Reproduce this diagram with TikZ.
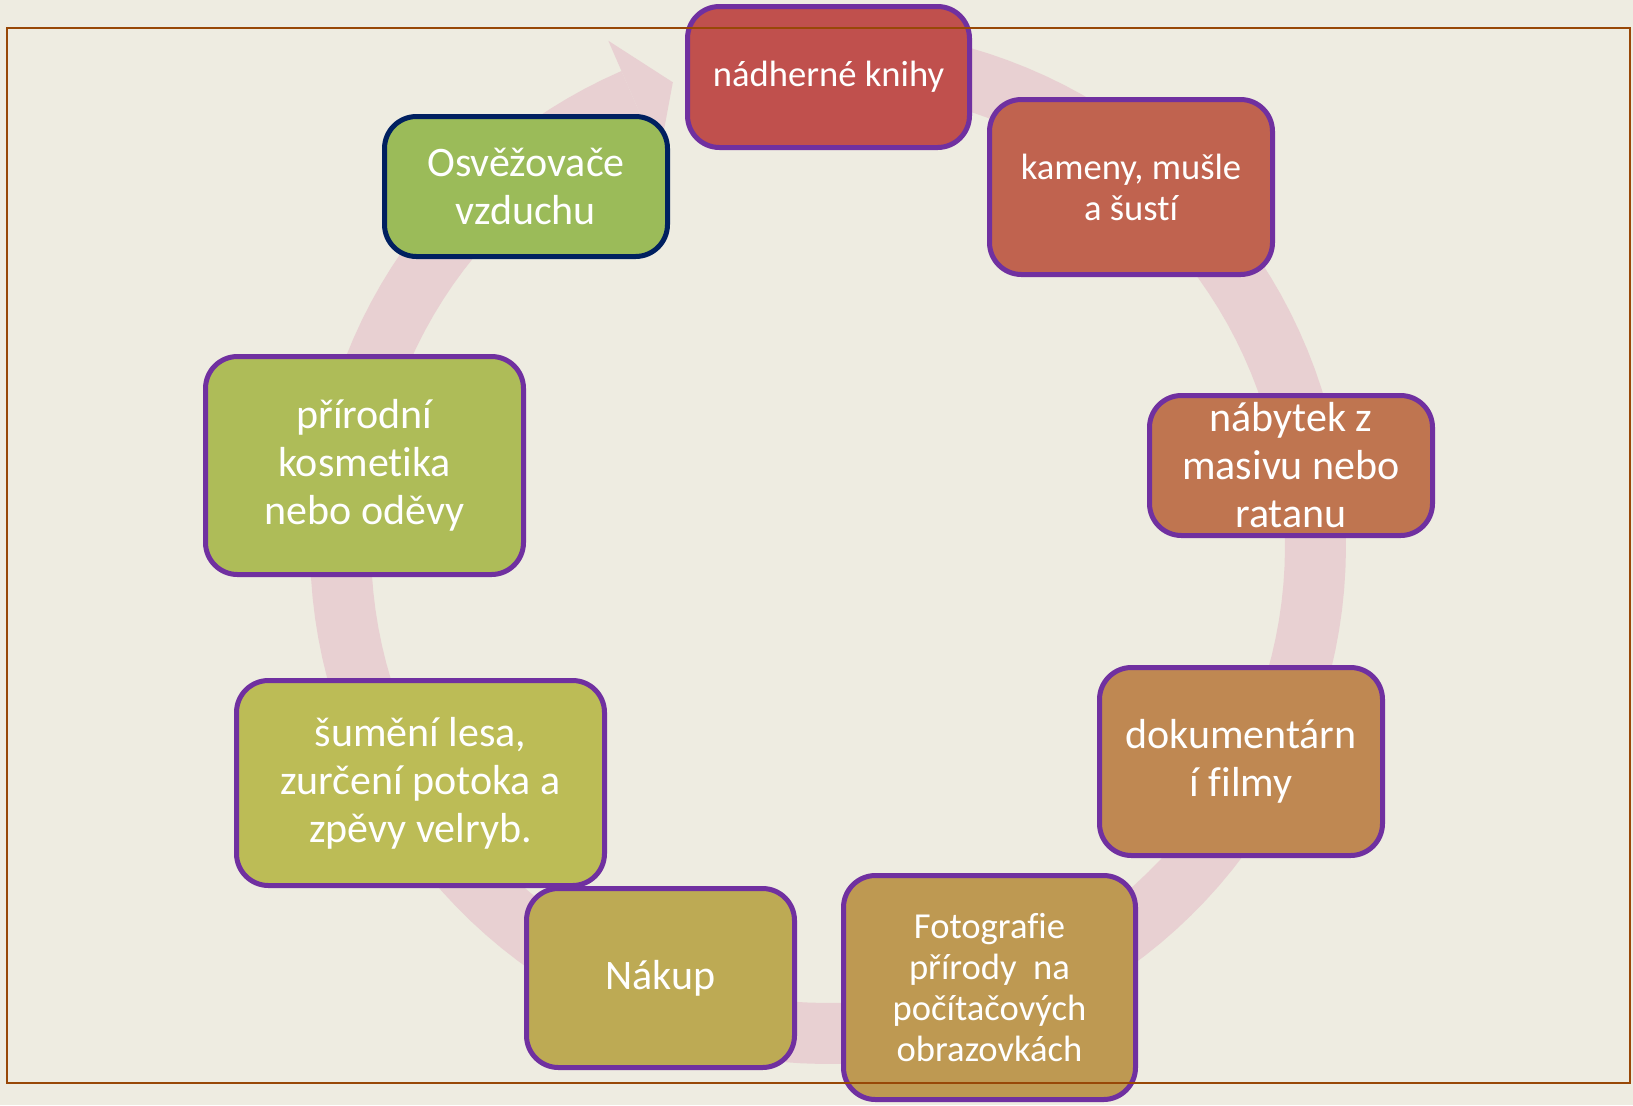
\documentclass[tikz,border=0pt]{standalone}
\usepackage{fontspec}
\setmainfont{Carlito}[Ligatures=NoCommon]

\definecolor{paper}{HTML}{EEECE1}
\definecolor{framebrown}{HTML}{984807}
\definecolor{bandpink}{HTML}{E8D0D2}
\definecolor{boxpurple}{HTML}{7030A0}
\definecolor{boxnavy}{HTML}{002060}
\definecolor{knihyred}{HTML}{C0504D}
\definecolor{kamenyred}{HTML}{C0634F}
\definecolor{nabytekbrown}{HTML}{BF7550}
\definecolor{filmybrown}{HTML}{BF8852}
\definecolor{fotoochre}{HTML}{BE9952}
\definecolor{nakupolive}{HTML}{BDAA54}
\definecolor{lesolive}{HTML}{BCBC56}
\definecolor{kosmetikagreen}{HTML}{AEBC58}
\definecolor{vzduchgreen}{HTML}{9BBB59}

\tikzset{
  cyclebox/.style n args={3}{rectangle, rounded corners=16pt, draw=boxpurple,
    line width=2.5pt, text=white, align=center, inner sep=0pt,
    fill=#1, minimum width=#2, minimum height=#3},
  bigtext/.style={font=\fontsize{21}{24}\selectfont},
  smalltext/.style={font=\fontsize{18.3}{20.5}\selectfont}
}

\begin{document}
\begin{tikzpicture}[x=0.5pt,y=-0.5pt]
	\useasboundingbox (0,0) rectangle (1633,1105);
	\fill[paper] (0,0) rectangle (1633,1105);

	% The circular arrow behind the boxes
	\fill[bandpink] plot[domain=113.5:450,samples=150] ({828+518*cos(\x)},{546-518*sin(\x)})
		-- plot[domain=450:113.5,samples=150] ({828+457*cos(\x)},{546-457*sin(\x)}) -- cycle;
	\fill[bandpink] ({828+424*cos(113.5)},{546-424*sin(113.5)})
		-- ({828+551*cos(113.5)},{546-551*sin(113.5)})
		-- ({828+489*cos(108.5)},{546-489*sin(108.5)}) -- cycle;

	% The boxes, clockwise from the top
	\node[cyclebox={knihyred}{141pt}{70.5pt}, smalltext] (knihy) at (828.5,77) {nádherné knihy};
	\node[cyclebox={kamenyred}{141.5pt}{87.5pt}, smalltext] (kameny) at (1131,187) {kameny, mušle\\a šustí};
	\node[cyclebox={nabytekbrown}{141.5pt}{70pt}, bigtext] (nabytek) at (1291,465.5) {nábytek z\\masivu nebo\\ratanu};
	\node[cyclebox={filmybrown}{141.5pt}{94pt}, bigtext] (filmy) at (1241,761.5) {dokumentárn\\í filmy};
	\node[cyclebox={fotoochre}{146pt}{112pt}, smalltext] (foto) at (989.5,987.5) {Fotografie\\přírody~~na\\počítačových\\obrazovkách};
	\node[cyclebox={nakupolive}{134pt}{89.5pt}, bigtext] (nakup) at (660.5,978) {Nákup};
	\node[cyclebox={lesolive}{184pt}{102.5pt}, bigtext] (les) at (420.5,783) {šumění lesa,\\zurčení potoka a\\zpěvy velryb.};
	\node[cyclebox={kosmetikagreen}{159pt}{109pt}, bigtext] (kosmetika) at (364.5,465.5) {přírodní\\kosmetika\\nebo oděvy};
	\node[cyclebox={vzduchgreen}{141.5pt}{70pt}, bigtext, draw=boxnavy] (vzduch) at (526,186.5) {Osvěžovače\\vzduchu};

	% The frame lies over everything
	\draw[framebrown, line width=1.1pt] (7,28) rectangle (1630,1083);
\end{tikzpicture}
\end{document}
